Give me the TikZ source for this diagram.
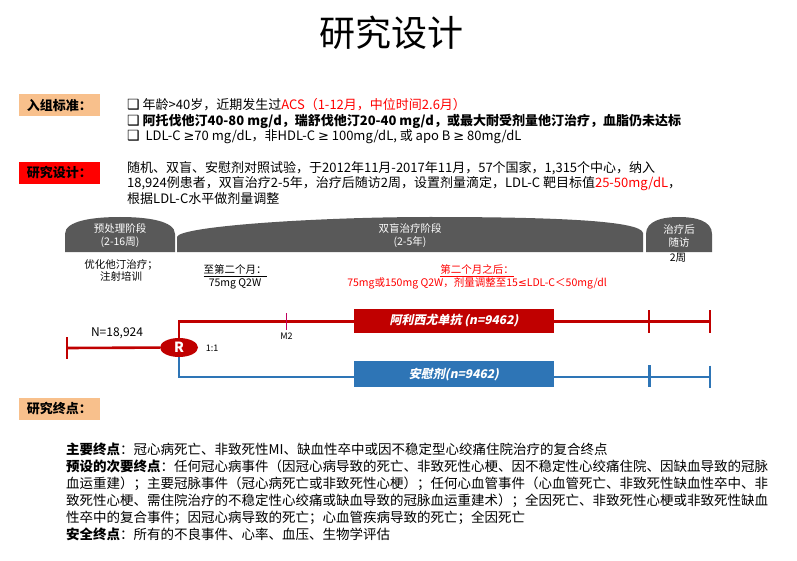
\documentclass[tikz,border=0pt]{standalone}
\usepackage{fontspec}
\setmainfont{Noto Sans CJK SC}
\newfontfamily\symfont{DejaVu Sans}
\newfontfamily\armfont{Noto Sans CJK SC}[FakeSlant=0.2]
\usetikzlibrary{positioning,shapes.geometric}
\definecolor{darkred}{HTML}{C00000}
\definecolor{armblue}{HTML}{2E75B6}
\definecolor{phasegrey}{HTML}{595959}
\definecolor{peach}{HTML}{F8C08C}
\definecolor{brightred}{HTML}{FF0000}
\definecolor{tickpink}{HTML}{C0005E}
\newcommand\boxbullet{{\symfont\bfseries\fontsize{14}{14}\selectfont ❑}}
\newcommand\gesym{{\symfont ≥}}
\newcommand\lesym{{\symfont ≤}}

\begin{document}
\begin{tikzpicture}[x=1pt,y=-1pt,
    labelbox/.style={fill=#1, minimum width=81, minimum height=22, inner sep=0, font=\bfseries\fontsize{13}{15}\selectfont},
    bodytext/.style={anchor=north west, inner sep=0, align=left, font=\fontsize{13}{15.5}\selectfont},
    phasetext/.style={text=white, align=center, inner sep=0, font=\fontsize{10.5}{13}\selectfont},
    smalltext/.style={align=center, inner sep=0, font=\fontsize{10.5}{12.5}\selectfont},
    redarm/.style={draw=darkred, line width=2.6},
    bluearm/.style={draw=armblue, line width=2.6},
    armbox/.style={minimum width=200, minimum height=24, inner sep=0, text=white, font=\armfont\bfseries\fontsize{12}{12}\selectfont}]
    \fill[white] (0,0) rectangle (797,561);
    \useasboundingbox (0,0) rectangle (797,561);
    % title
    \node[font=\fontsize{36}{36}\selectfont] (title) at (391,33) {研究设计};
    % inclusion criteria
    \node[labelbox=peach] (inclabel) at (59.5,105.3) {入组标准：};
    \node[bodytext] (criteria) at (127,98.5) {\boxbullet\ 年龄>40岁，近期发生过\textcolor{brightred}{ACS（1-12月，中位时间2.6月）}\\
        \boxbullet\ \textbf{阿托伐他汀40-80 mg/d，瑞舒伐他汀20-40 mg/d，或最大耐受剂量他汀治疗，血脂仍未达标}\\
        \boxbullet\ \ LDL-C \gesym70 mg/dL，非HDL-C \gesym\ 100mg/dL, 或 apo B \gesym\ 80mg/dL};
    % design
    \node[labelbox=brightred] (designlabel) at (59.5,172.9) {研究设计：};
    \node[bodytext] (design) at (127,161) {随机、双盲、安慰剂对照试验，于2012年11月-2017年11月，57个国家，1,315个中心，纳入\\
        18,924例患者，双盲治疗2-5年，治疗后随访2周，设置剂量滴定，LDL-C 靶目标值\textcolor{brightred}{25-50mg/dL}，\\
        根据LDL-C水平做剂量调整};
    % phases
    \fill[phasegrey] (65,252) -- (65,234) .. controls (65,221) and (92,217) .. (120,217) .. controls (148,217) and (175,221) .. (175,234) -- (175,252) -- cycle;
    \fill[phasegrey] (177,252) -- (177,237) .. controls (179,226) and (320,217) .. (430,217) .. controls (560,217) and (641,221) .. (643,233) -- (643,252) -- cycle;
    \fill[phasegrey] (646,252) -- (646,234) .. controls (646,221) and (662,217) .. (679,217) .. controls (696,217) and (712,221) .. (712,234) -- (712,252) -- cycle;
    \node[phasetext] (pre) at (120,236) {预处理阶段\\(2-16周)};
    \node[phasetext] (dbl) at (410,236) {双盲治疗阶段\\(2-5年)};
    \node[phasetext] (fu) at (679,236) {治疗后\\随访};
    \node[smalltext] (opt) at (121,270.5) {优化他汀治疗；\\注射培训};
    \node[smalltext] (month2) at (235,277) {\underline{至第二个月：}\\75mg Q2W};
    \node[smalltext, text=brightred] (after2) at (477,277) {\underline{第二个月之后：}\\75mg或150mg Q2W，剂量调整至15\lesym LDL-C＜50mg/dl};
    \node[smalltext] (fu2) at (678,258) {2周};
    % timeline
    \coordinate (start) at (67,348);
    \coordinate (redend) at (710,321.5);
    \coordinate (blueend) at (710,377);
    \coordinate (m2) at (286.5,321.5);
    \node[ellipse, fill=darkred, minimum width=38, minimum height=19, inner sep=0, text=white, font=\bfseries\fontsize{14}{14}\selectfont] (R) at (179,347.5) {R};
    \draw[redarm] (start) -- (R);
    \draw[redarm] ([yshift=11]start) -- ([yshift=-11]start);
    \draw[redarm] (R.north) |- (redend);
    \draw[bluearm] (R.south) |- (blueend);
    \draw[tickpink, line width=1.6] ([yshift=8.5]m2) -- ([yshift=-8]m2);
    \node[font=\fontsize{9}{9}\selectfont] (m2label) at (286.5,336) {M2};
    \node[font=\fontsize{12}{12}\selectfont] (total) at (117,333) {N=18,924};
    \node[font=\fontsize{9}{9}\selectfont] (ratio) at (212,348) {1:1};
    \node[armbox, fill=darkred] (alir) at (454,321) {阿利西尤单抗 (n=9462)};
    \node[armbox, fill=armblue, minimum height=26] (plac) at (454,374.2) {安慰剂(n=9462)};
    \draw[redarm] (649,310) -- (649,333);
    \draw[redarm] (redend) ++(0,-11.5) -- ++(0,23);
    \draw[bluearm] (649.5,365) -- (649.5,387);
    \draw[bluearm] (blueend) ++(0,-11.5) -- ++(0,22);
    % endpoints
    \node[labelbox=peach] (endlabel) at (59.5,409) {研究终点：};
    \node[bodytext, font=\fontsize{13.5}{17}\selectfont] (endpoints) at (66,443) {\textbf{主要终点}：冠心病死亡、非致死性MI、缺血性卒中或因不稳定型心绞痛住院治疗的复合终点\\
        \textbf{预设的次要终点}：任何冠心病事件（因冠心病导致的死亡、非致死性心梗、因不稳定性心绞痛住院、因缺血导致的冠脉\\
        血运重建）；主要冠脉事件（冠心病死亡或非致死性心梗）；任何心血管事件（心血管死亡、非致死性缺血性卒中、非\\
        致死性心梗、需住院治疗的不稳定性心绞痛或缺血导致的冠脉血运重建术）；全因死亡、非致死性心梗或非致死性缺血\\
        性卒中的复合事件；因冠心病导致的死亡；心血管疾病导致的死亡；全因死亡\\
        \textbf{安全终点}：所有的不良事件、心率、血压、生物学评估};
\end{tikzpicture}
\end{document}
